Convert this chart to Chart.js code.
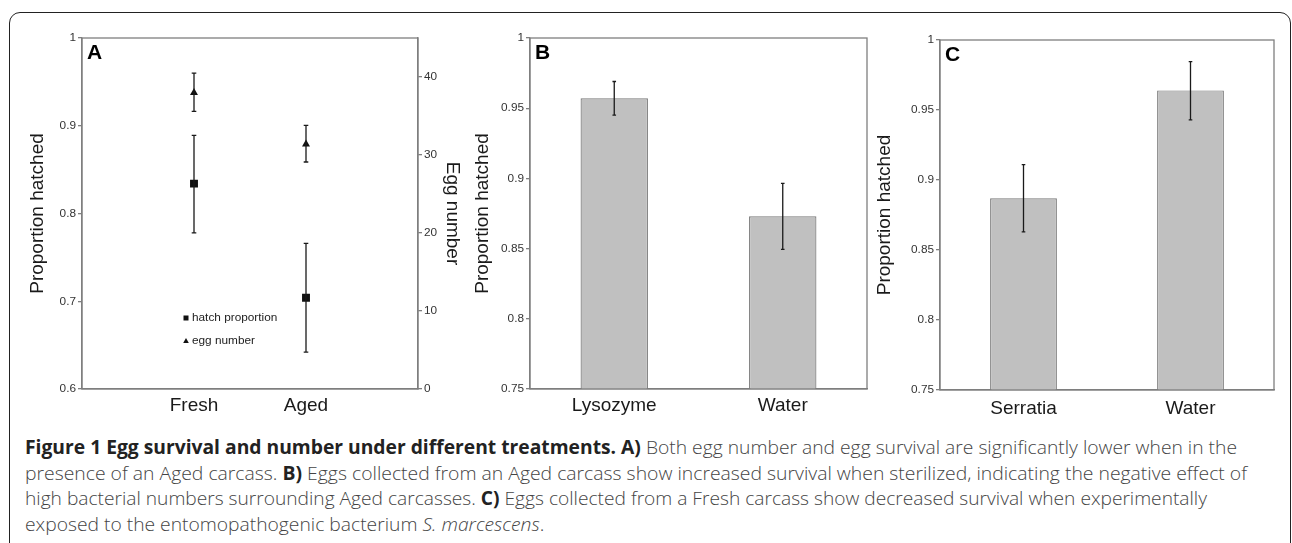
<!DOCTYPE html>
<html><head><meta charset="utf-8">
<script src="https://cdn.jsdelivr.net/npm/chart.js@4/dist/chart.umd.min.js"></script>
<style>
html,body{margin:0;padding:0;background:#fff;width:1292px;height:543px;overflow:hidden;}
#frame{position:absolute;left:9px;top:12px;width:1282px;height:600px;border:1.5px solid #222;border-radius:11px;box-sizing:border-box;}
.panel{position:absolute;top:0;height:430px;}
#caption{position:absolute;left:25px;top:435px;font-family:'Open Sans','Noto Sans',sans-serif;font-size:19px;font-weight:300;color:#444;}
.line{white-space:nowrap;height:25.7px;line-height:25.7px;}
.line span.t{display:inline-block;transform-origin:0 50%;}
.line b{color:#222;font-weight:700;}
</style></head>
<body>
<div id="frame"></div>
<div class="panel" style="left:0;width:465px;"><canvas id="cA"></canvas></div>
<div class="panel" style="left:465px;width:405px;"><canvas id="cB"></canvas></div>
<div class="panel" style="left:870px;width:422px;"><canvas id="cC"></canvas></div>
<div id="caption">
<div class="line"><span class="t"><b>Figure 1 Egg survival and number under different treatments. A)</b> Both egg number and egg survival are significantly lower when in the</span></div>
<div class="line"><span class="t">presence of an Aged carcass. <b>B)</b> Eggs collected from an Aged carcass show increased survival when sterilized, indicating the negative effect of</span></div>
<div class="line"><span class="t">high bacterial numbers surrounding Aged carcasses. <b>C)</b> Eggs collected from a Fresh carcass show decreased survival when experimentally</span></div>
<div class="line"><span class="t">exposed to the entomopathogenic bacterium <i>S. marcescens</i>.</span></div>
</div>
<script>
// ---- Panel A data ----
const categoriesA = ['Fresh', 'Aged'];
const hatchProportion = [0.834, 0.704];
const hatchErrLow = [0.778, 0.642];
const hatchErrHigh = [0.889, 0.766];
const eggNumber = [38.0, 31.4];
const eggErrLow = [35.6, 29.1];
const eggErrHigh = [40.5, 33.8];
const ticksLeftA = [0.6, 0.7, 0.8, 0.9, 1];
const ticksRightA = [0, 10, 20, 30, 40];
// ---- Panel B data ----
const categoriesB = ['Lysozyme', 'Water'];
const hatchedB = [0.957, 0.873];
const errLowB = [0.945, 0.8495];
const errHighB = [0.969, 0.8965];
// ---- Panel C data ----
const categoriesC = ['Serratia', 'Water'];
const hatchedC = [0.887, 0.964];
const errLowC = [0.863, 0.943];
const errHighC = [0.911, 0.9845];
const ticksBC = [0.75, 0.8, 0.85, 0.9, 0.95, 1];

Chart.defaults.font.family = "'Liberation Sans', Arial, sans-serif";
Chart.defaults.color = '#333';

const AXIS = '#7f7f7f';
const fmt = v => String(parseFloat(Number(v).toFixed(3)));

const errorBarPlugin = {
  id: 'errorBars',
  afterDatasetsDraw(chart, args, opts) {
    const ctx = chart.ctx;
    (opts.sets || []).forEach(set => {
      const meta = chart.getDatasetMeta(set.datasetIndex);
      const yScale = chart.scales[meta.yAxisID];
      ctx.save();
      ctx.strokeStyle = '#1a1a1a';
      ctx.lineWidth = 1.3;
      meta.data.forEach((el, i) => {
        const lo = set.low[i], hi = set.high[i];
        if (lo == null || hi == null) return;
        const x = el.x;
        const yl = yScale.getPixelForValue(lo), yh = yScale.getPixelForValue(hi);
        ctx.beginPath();
        ctx.moveTo(x, yl); ctx.lineTo(x, yh);
        ctx.moveTo(x - set.cap, yl); ctx.lineTo(x + set.cap, yl);
        ctx.moveTo(x - set.cap, yh); ctx.lineTo(x + set.cap, yh);
        ctx.stroke();
      });
      ctx.restore();
    });
  }
};

const boxPlugin = {
  id: 'plotBox',
  afterDraw(chart, args, opts) {
    const a = chart.chartArea, ctx = chart.ctx;
    ctx.save();
    ctx.strokeStyle = AXIS;
    ctx.lineWidth = 1.3;
    ctx.strokeRect(a.left, a.top, a.right - a.left, a.bottom - a.top);
    ctx.fillStyle = '#000';
    ctx.font = "bold 21px 'Liberation Sans', Arial, sans-serif";
    ctx.textBaseline = 'top';
    ctx.textAlign = 'left';
    ctx.fillText(opts.letter, a.left + 5, a.top + 5);
    ctx.restore();
  }
};

const legendAPlugin = {
  id: 'legendA',
  afterDraw(chart) {
    const a = chart.chartArea, ctx = chart.ctx;
    const x = a.left + 104, y1 = a.top + 280, y2 = a.top + 303;
    ctx.save();
    ctx.fillStyle = '#111';
    ctx.fillRect(x - 2.5, y1 - 2.5, 5, 5);
    ctx.beginPath();
    ctx.moveTo(x, y2 - 3); ctx.lineTo(x + 2.8, y2 + 2); ctx.lineTo(x - 2.8, y2 + 2); ctx.closePath();
    ctx.fill();
    ctx.fillStyle = '#222';
    ctx.font = "11.8px 'Liberation Sans', Arial, sans-serif";
    ctx.textBaseline = 'middle';
    ctx.fillText(chart.data.datasets[0].label, x + 6, y1);
    ctx.fillText(chart.data.datasets[1].label, x + 6, y2);
    ctx.restore();
  }
};

function yAxis(opts) {
  return Object.assign({
    grid: { drawOnChartArea: false, drawTicks: true, tickLength: 4, color: AXIS, lineWidth: 1.3 },
    border: { display: true, color: AXIS, width: 1.3 },
    ticks: { font: { size: 11.8 }, color: '#333', padding: 2, callback: fmt }
  }, opts);
}

// ---- Panel A ----
new Chart(document.getElementById('cA'), {
  type: 'line',
  data: {
    labels: ['', ...categoriesA, ''],
    datasets: [
      { label: 'hatch proportion', data: [null, ...hatchProportion, null], yAxisID: 'y',
        showLine: false, pointStyle: 'rect', pointRadius: 5.6, backgroundColor: '#111', borderColor: '#111', borderWidth: 0 },
      { label: 'egg number', data: [null, ...eggNumber, null], yAxisID: 'y1',
        showLine: false, pointStyle: 'triangle', pointRadius: 4.6, backgroundColor: '#111', borderColor: '#111', borderWidth: 0 }
    ]
  },
  options: {
    responsive: true, maintainAspectRatio: false, animation: false,
    layout: { padding: { top: 38, left: 0, right: 0, bottom: 0 } },
    plugins: {
      legend: { display: false }, tooltip: { enabled: false },
      plotBox: { letter: 'A' },
      errorBars: { sets: [
        { datasetIndex: 0, low: [null, ...hatchErrLow, null], high: [null, ...hatchErrHigh, null], cap: 2.3 },
        { datasetIndex: 1, low: [null, ...eggErrLow, null], high: [null, ...eggErrHigh, null], cap: 2.3 }
      ] }
    },
    scales: {
      x: { type: 'category', offset: false,
        grid: { display: false, drawTicks: false },
        border: { display: true, color: AXIS, width: 1.3 },
        ticks: { font: { size: 19 }, color: '#1a1a1a', padding: 5, autoSkip: false, maxRotation: 0 },
        afterFit(s) { s.height = 41; } },
      y: yAxis({ position: 'left', min: 0.6, max: 1,
        afterBuildTicks(s) { s.ticks = ticksLeftA.map(v => ({ value: v })); },
        title: { display: true, text: 'Proportion hatched', font: { size: 19 }, color: '#1a1a1a', padding: { top: 26, bottom: 0 } },
        afterFit(s) { s.width = 82; } }),
      y1: yAxis({ position: 'right', min: 0, max: 45,
        afterBuildTicks(s) { s.ticks = ticksRightA.map(v => ({ value: v })); },
        title: { display: true, text: 'Egg number', font: { size: 19 }, color: '#1a1a1a', padding: { top: 1, bottom: 0 } },
        afterFit(s) { s.width = 47; } })
    }
  },
  plugins: [errorBarPlugin, boxPlugin, legendAPlugin]
});

function barChart(id, letter, cats, vals, lo, hi, top, bottomH, yW, titlePad, padRight, xPad) {
  return new Chart(document.getElementById(id), {
    type: 'bar',
    data: { labels: cats, datasets: [{ label: 'Proportion hatched', data: vals,
      backgroundColor: '#c0c0c0', borderColor: '#7a7a7a', borderWidth: 1.2,
      categoryPercentage: 1, barPercentage: 0.4 }] },
    options: {
      responsive: true, maintainAspectRatio: false, animation: false,
      layout: { padding: { top: top, left: 0, right: padRight, bottom: 0 } },
      plugins: { legend: { display: false }, tooltip: { enabled: false },
        plotBox: { letter: letter },
        errorBars: { sets: [{ datasetIndex: 0, low: lo, high: hi, cap: 1.8 }] } },
      scales: {
        x: { grid: { display: false, drawTicks: false },
          border: { display: true, color: AXIS, width: 1.3 },
          ticks: { font: { size: 19 }, color: '#1a1a1a', padding: xPad, maxRotation: 0 },
          afterFit(s) { s.height = bottomH; } },
        y: yAxis({ position: 'left', min: 0.75, max: 1,
          afterBuildTicks(s) { s.ticks = ticksBC.map(v => ({ value: v })); },
          title: { display: true, text: 'Proportion hatched', font: { size: 19 }, color: '#1a1a1a', padding: { top: titlePad, bottom: 0 } },
          afterFit(s) { s.width = yW; } })
      }
    },
    plugins: [errorBarPlugin, boxPlugin]
  });
}

barChart('cB', 'B', categoriesB, hatchedB, errLowB, errHighB, 38, 41, 65, 6.6, 3, 5);
barChart('cC', 'C', categoriesC, hatchedC, errLowC, errHighC, 40, 40, 70, 3.6, 18, 7);

// fit caption lines to the reference line ends
function fitCaption() {
  const targets = [1237, 1247, 1207];
  const spans = document.querySelectorAll('#caption .line span.t');
  let scales = [];
  spans.forEach((s, i) => {
    if (i < targets.length) {
      const w = s.getBoundingClientRect().width;
      const sc = (targets[i] - 25) / w;
      scales.push(sc);
      s.style.transform = 'scaleX(' + sc + ')';
    }
  });
  const avg = scales.reduce((a, b) => a + b, 0) / scales.length;
  spans[3].style.transform = 'scaleX(' + avg + ')';
}
if (document.fonts && document.fonts.ready) document.fonts.ready.then(fitCaption); else fitCaption();
</script>
</body></html>
